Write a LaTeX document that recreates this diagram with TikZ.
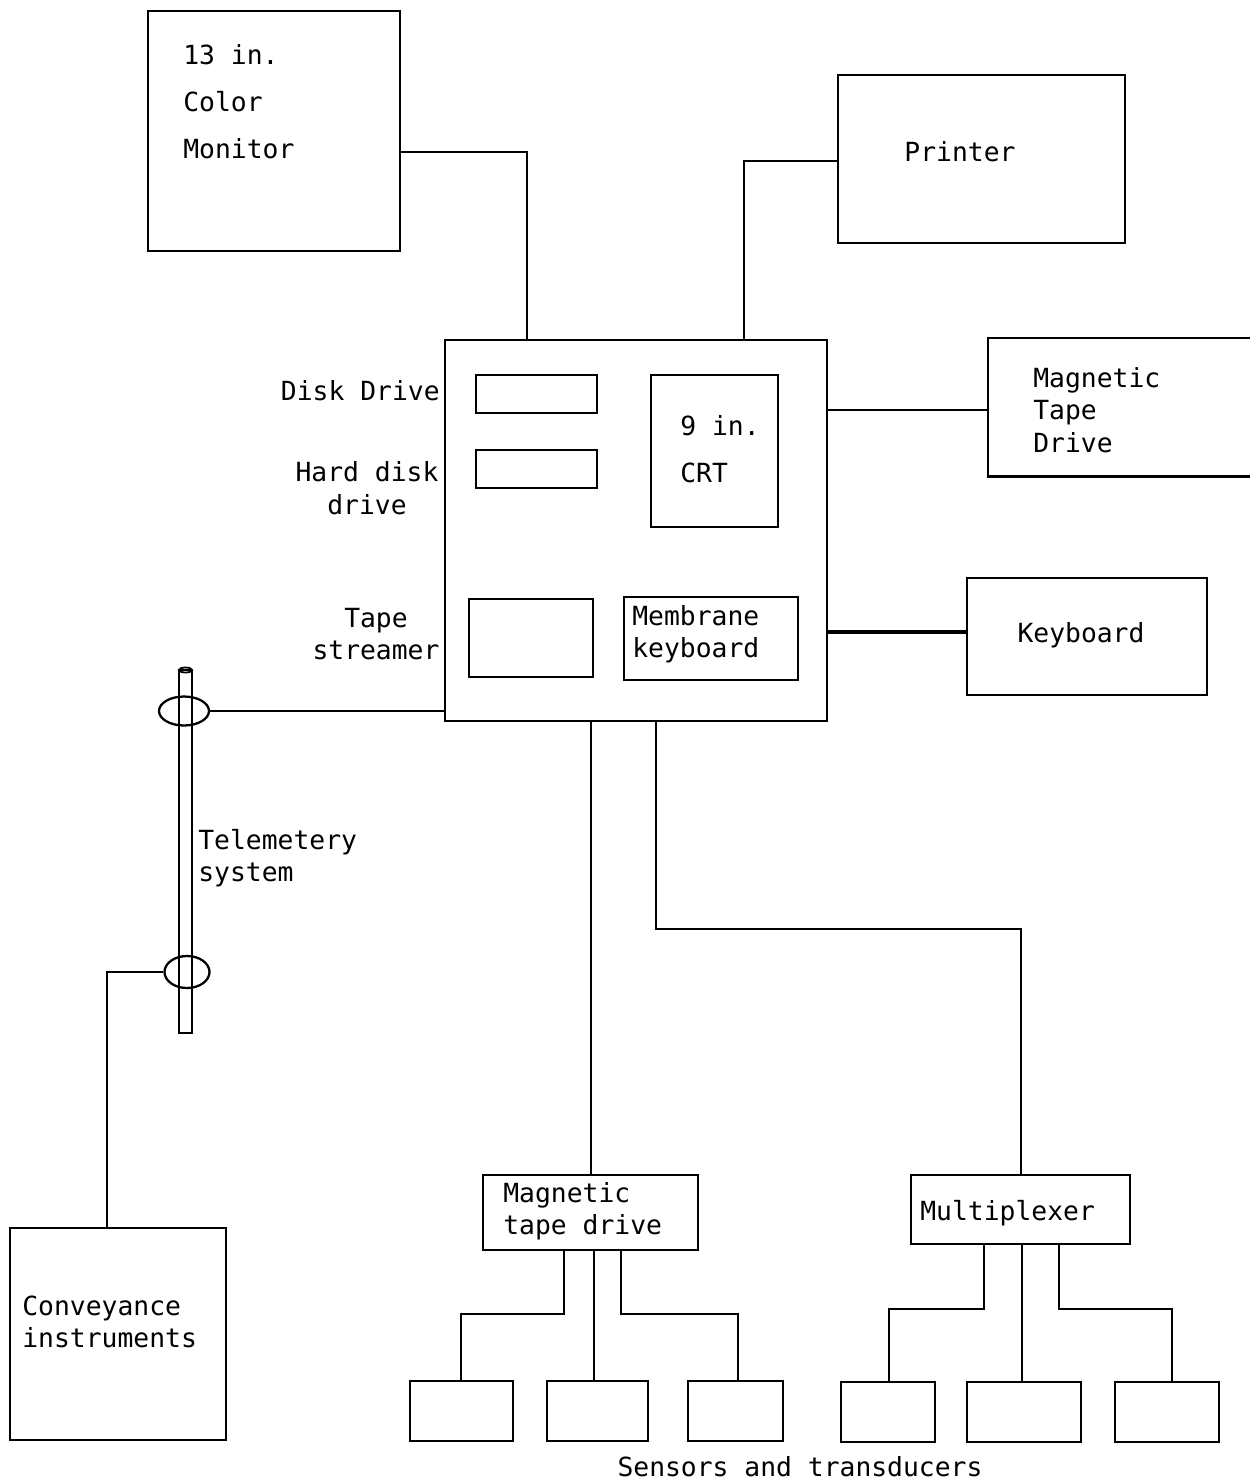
\documentclass[tikz,border=0pt]{standalone}
\usepackage{fontspec}
\setmonofont{DejaVu Sans Mono}
\usetikzlibrary{fit,shapes.geometric}

\tikzset{
  unit/.style={box, fit={#1}},
  box/.style={draw, line width=1.3pt, inner sep=0pt},
  wire/.style={line width=1.3pt},
  txt/.style={font=\ttfamily\fontsize{15}{18.5}\selectfont, inner sep=0pt},
  widetxt/.style={font=\ttfamily\fontsize{15}{26.8}\selectfont, inner sep=0pt},
  ring/.style={draw, ellipse, line width=1.3pt, inner sep=0pt},
}

\begin{document}
\begin{tikzpicture}[x=0.02cm, y=-0.02cm]
\useasboundingbox (0,0) rectangle (1250,1482);

% ---- peripherals around the central unit ----
\node[unit={(148,11) (400,251)}] (mon) {};
\node[widetxt, anchor=west, align=left] (monT) at (183,102) {13 in.\\Color\\Monitor};

\node[unit={(838,75) (1125,243)}] (prn) {};
\node[txt] (prnT) at (960,152) {Printer};

% magnetic tape drive runs off the right edge
\node[fit={(988,338) (1250,476)}, inner sep=0pt] (mtd) {};
\draw[wire] (mtd.north east) -- (mtd.north west) -- (mtd.south west) -- (mtd.south east);
\node[txt, anchor=west, align=left] (mtdT) at (1033,410) {Magnetic\\Tape\\Drive};

\node[unit={(967,578) (1207,695)}] (kbd) {};
\node[txt] (kbdT) at (1081,635) {Keyboard};

% ---- central unit and its parts ----
\node[unit={(445,340) (827,721)}] (main) {};
\node[unit={(476,375) (597,413)}] (disk) {};
\node[unit={(476,450) (597,488)}] (hdd) {};
\node[unit={(651,375) (778,527)}] (crt) {};
\node[unit={(469,599) (593,677)}] (tape) {};
\node[unit={(624,597) (798,680)}] (memb) {};

\node[txt, anchor=east] (diskT) at (440,391) {Disk Drive};
\node[txt, align=center] (hddT) at (367,488) {Hard disk\\drive};
\node[widetxt, anchor=west, align=left] (crtT) at (680,449) {9 in.\\CRT};
\node[txt, align=center] (tapeT) at (376,634) {Tape\\streamer};
\node[txt, anchor=west, align=left] (membT) at (632,634) {Membrane\\keyboard};

% ---- telemetry pole with its two couplers ----
\node[fit={(179,670) (192,1033)}, draw, line width=1pt, inner sep=0pt] (pole) {};
\node[draw, ellipse, line width=1pt, minimum width=13*0.02cm, minimum height=5*0.02cm, inner sep=0pt] (poleTop) at (185.5,670) {};
\node[ring, minimum width=50*0.02cm, minimum height=29*0.02cm] (ring1) at (184,711) {};
\node[ring, minimum width=45*0.02cm, minimum height=32*0.02cm] (ring2) at (187,972) {};
\node[txt, anchor=west, align=left] (telT) at (198,858) {Telemetery\\system};

\node[unit={(10,1228) (226,1440)}] (conv) {};
\node[txt, anchor=west, align=left] (convT) at (22,1322) {Conveyance\\instruments};

% ---- acquisition units and sensors ----
\node[unit={(483,1175) (698,1250)}] (tdr) {};
\node[txt, anchor=west, align=left] (tdrT) at (503,1211) {Magnetic\\tape drive};
\node[unit={(911,1175) (1130,1244)}] (mux) {};
\node[txt, anchor=west] (muxT) at (920,1213) {Multiplexer};

\node[unit={(410,1381) (513,1441)}] (s1) {};
\node[unit={(547,1381) (648,1441)}] (s2) {};
\node[unit={(688,1381) (783,1441)}] (s3) {};
\node[unit={(841,1382) (935,1442)}] (s4) {};
\node[unit={(967,1382) (1081,1442)}] (s5) {};
\node[unit={(1115,1382) (1219,1442)}] (s6) {};
\node[txt] (sensT) at (800,1467) {Sensors and transducers};

% ---- connectors ----
\coordinate (kMon) at (527,152);
\draw[wire] (mon.east |- kMon) -| (main.north -| kMon);
\coordinate (kPrn) at (744,161);
\draw[wire] (prn.west |- kPrn) -| (main.north -| kPrn);
\coordinate (kMtd) at (0,410);
\draw[wire] (main.east |- kMtd) -- (mtd.west |- kMtd);
\coordinate (kKbd) at (0,632);
\draw[line width=1.9pt] (main.east |- kKbd) -- (kbd.west |- kKbd);

\draw[wire] (ring1.east) -- (main.west |- ring1.east);
\coordinate (kConv) at (107,0);
\draw[wire] (ring2.west) -| (conv.north -| kConv);

\coordinate (kTdr) at (591,0);
\draw[wire] (main.south -| kTdr) -- (tdr.north -| kTdr);
\coordinate (kMx1) at (656,929);
\coordinate (kMx2) at (1021,929);
\draw[wire] (main.south -| kMx1) -- (kMx1) -- (kMx2) -- (mux.north -| kMx2);

\coordinate (t1) at (564,1314);
\coordinate (t1b) at (461,1314);
\draw[wire] (tdr.south -| t1) -- (t1) -- (t1b) -- (s1.north -| t1b);
\coordinate (t2) at (594,0);
\draw[wire] (tdr.south -| t2) -- (s2.north -| t2);
\coordinate (t3) at (621,1314);
\coordinate (t3b) at (738,1314);
\draw[wire] (tdr.south -| t3) -- (t3) -- (t3b) -- (s3.north -| t3b);

\coordinate (m1) at (984,1309);
\coordinate (m1b) at (889,1309);
\draw[wire] (mux.south -| m1) -- (m1) -- (m1b) -- (s4.north -| m1b);
\coordinate (m2) at (1022,0);
\draw[wire] (mux.south -| m2) -- (s5.north -| m2);
\coordinate (m3) at (1059,1309);
\coordinate (m3b) at (1172,1309);
\draw[wire] (mux.south -| m3) -- (m3) -- (m3b) -- (s6.north -| m3b);
\end{tikzpicture}
\end{document}
